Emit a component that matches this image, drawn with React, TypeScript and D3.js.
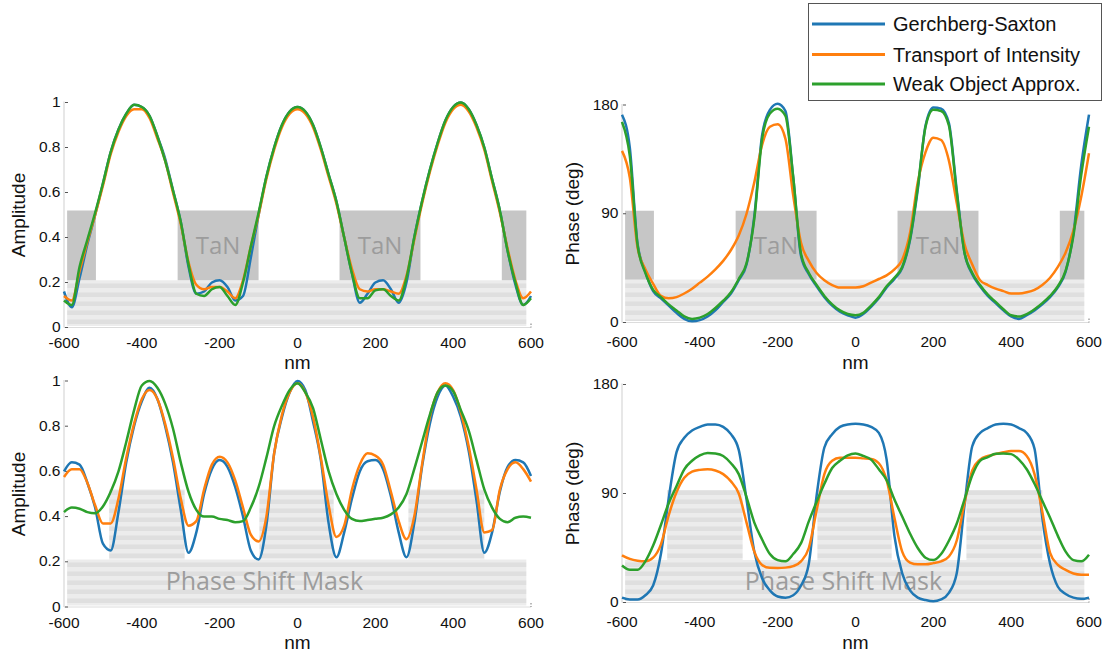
import React from 'react'
import * as d3 from 'd3'

// sample positions along the line cut (nm)
const nm = [-600, -580, -560, -540, -520, -500, -480, -460, -440, -420,
  -400, -380, -360, -340, -320, -300, -280, -260, -240, -220,
  -200, -180, -160, -140, -120, -100, -80, -60, -40, -20,
  0, 20, 40, 60, 80, 100, 120, 140, 160, 180,
  200, 220, 240, 260, 280, 300, 320, 340, 360, 380,
  400, 420, 440, 460, 480, 500, 520, 540, 560, 580,
  600]

// TaN absorber: amplitude
const ampTaN_GS = [0.16, 0.09, 0.22, 0.37, 0.50, 0.64, 0.78, 0.88, 0.95, 0.99,
  0.98, 0.94, 0.85, 0.75, 0.61, 0.47, 0.27, 0.15, 0.16, 0.20,
  0.21, 0.18, 0.12, 0.14, 0.31, 0.50, 0.67, 0.80, 0.90, 0.96,
  0.98, 0.96, 0.90, 0.80, 0.68, 0.56, 0.40, 0.24, 0.11, 0.15,
  0.20, 0.21, 0.17, 0.11, 0.20, 0.40, 0.56, 0.70, 0.82, 0.92,
  0.98, 1.00, 0.97, 0.90, 0.80, 0.66, 0.52, 0.34, 0.19, 0.10,
  0.14]
const ampTaN_TIE = [0.14, 0.12, 0.25, 0.38, 0.50, 0.63, 0.77, 0.87, 0.94, 0.97,
  0.97, 0.93, 0.84, 0.74, 0.60, 0.46, 0.29, 0.19, 0.17, 0.18,
  0.18, 0.16, 0.13, 0.21, 0.36, 0.50, 0.66, 0.79, 0.89, 0.95,
  0.97, 0.95, 0.89, 0.79, 0.67, 0.55, 0.40, 0.26, 0.17, 0.16,
  0.17, 0.17, 0.16, 0.15, 0.23, 0.39, 0.55, 0.69, 0.81, 0.91,
  0.97, 0.99, 0.96, 0.89, 0.79, 0.65, 0.51, 0.35, 0.21, 0.13,
  0.16]
const ampTaN_WOA = [0.12, 0.10, 0.27, 0.39, 0.51, 0.64, 0.78, 0.88, 0.95, 0.99,
  0.98, 0.94, 0.85, 0.74, 0.61, 0.47, 0.28, 0.15, 0.14, 0.17,
  0.18, 0.14, 0.10, 0.20, 0.36, 0.51, 0.67, 0.80, 0.90, 0.96,
  0.98, 0.96, 0.90, 0.80, 0.68, 0.56, 0.40, 0.24, 0.13, 0.13,
  0.165, 0.17, 0.14, 0.12, 0.22, 0.40, 0.56, 0.70, 0.82, 0.92,
  0.98, 1.00, 0.97, 0.90, 0.80, 0.66, 0.52, 0.34, 0.20, 0.10,
  0.13]

// TaN absorber: phase (deg)
const phaseTaN_GS = [172, 145, 65, 42, 26, 20, 14, 8, 3, 1,
  2, 5, 10, 17, 24, 35, 48, 88, 155, 176,
  181, 175, 120, 55, 40, 30, 21, 14, 9, 6,
  4, 7, 13, 20, 29, 36, 45, 68, 110, 163,
  178, 177, 165, 110, 58, 40, 30, 22, 16, 10,
  5, 3, 6, 10, 15, 21, 29, 42, 74, 130,
  172]
const phaseTaN_TIE = [142, 120, 62, 44, 32, 22, 20, 21, 24, 28,
  33, 38, 44, 51, 60, 72, 90, 116, 147, 162,
  164, 152, 105, 66, 51, 41, 35, 31, 29, 29,
  29, 30, 33, 36, 39, 44, 52, 74, 116, 141,
  153, 151, 134, 99, 65, 48, 35, 31, 28, 26,
  24, 24, 25, 27, 31, 37, 46, 58, 76, 104,
  140]
const phaseTaN_WOA = [166, 138, 64, 41, 27, 21, 15, 10, 5, 3,
  4, 7, 12, 18, 25, 36, 49, 86, 152, 173,
  177, 171, 120, 57, 41, 31, 22, 15, 10, 7,
  6, 8, 14, 21, 30, 37, 46, 69, 112, 162,
  176, 175, 163, 108, 58, 41, 31, 23, 17, 11,
  6, 5, 7, 11, 16, 22, 30, 43, 72, 122,
  162]

// phase shift mask: amplitude
const ampPSM_GS = [0.60, 0.64, 0.63, 0.55, 0.44, 0.28, 0.25, 0.42, 0.64, 0.80,
  0.91, 0.97, 0.92, 0.80, 0.64, 0.43, 0.24, 0.33, 0.50, 0.61,
  0.65, 0.62, 0.53, 0.40, 0.25, 0.21, 0.36, 0.68, 0.84, 0.95,
  1.00, 0.96, 0.82, 0.65, 0.37, 0.22, 0.33, 0.48, 0.60, 0.645,
  0.65, 0.61, 0.49, 0.33, 0.22, 0.37, 0.62, 0.81, 0.93, 0.98,
  0.93, 0.84, 0.69, 0.47, 0.24, 0.33, 0.51, 0.62, 0.65, 0.64,
  0.58]
const ampPSM_TIE = [0.575, 0.61, 0.61, 0.55, 0.45, 0.37, 0.37, 0.48, 0.66, 0.81,
  0.92, 0.96, 0.92, 0.81, 0.66, 0.48, 0.36, 0.38, 0.52, 0.63,
  0.665, 0.64, 0.56, 0.44, 0.32, 0.29, 0.40, 0.68, 0.85, 0.95,
  0.99, 0.95, 0.84, 0.66, 0.45, 0.31, 0.36, 0.52, 0.63, 0.68,
  0.67, 0.63, 0.51, 0.38, 0.30, 0.40, 0.63, 0.84, 0.95, 0.99,
  0.96, 0.86, 0.71, 0.52, 0.33, 0.34, 0.52, 0.61, 0.64, 0.61,
  0.555]
const ampPSM_WOA = [0.42, 0.44, 0.435, 0.42, 0.415, 0.445, 0.51, 0.60, 0.73, 0.87,
  0.98, 1.00, 0.97, 0.90, 0.79, 0.64, 0.51, 0.43, 0.40, 0.40,
  0.39, 0.385, 0.375, 0.38, 0.44, 0.53, 0.66, 0.80, 0.89, 0.96,
  0.99, 0.95, 0.88, 0.74, 0.60, 0.50, 0.43, 0.39, 0.38, 0.385,
  0.39, 0.395, 0.41, 0.44, 0.50, 0.61, 0.73, 0.85, 0.95, 0.98,
  0.955, 0.87, 0.78, 0.65, 0.52, 0.44, 0.39, 0.375, 0.395, 0.40,
  0.395]

// phase shift mask: phase (deg)
const phasePSM_GS = [4, 2.5, 2.5, 6, 14, 40, 86, 124, 136, 142,
  145, 147, 147, 145, 139, 126, 85, 42, 20, 10,
  5, 4, 6, 14, 32, 88, 128, 139, 145, 147,
  147.5, 147, 145, 140, 118, 55, 24, 10, 4, 2,
  1, 2.5, 8, 24, 80, 129, 140, 144, 147, 147.5,
  147, 144, 140, 127, 70, 32, 13, 7, 4, 3,
  4]
const phasePSM_TIE = [39, 36, 34.5, 34, 37, 48, 72, 91, 103, 108,
  109.5, 110, 109, 106, 100, 90, 66, 42, 31, 28.6,
  28.5, 28.8, 30, 34, 45, 76, 106, 117, 119.5, 119.5,
  119.5, 119, 118.5, 115, 101, 70, 42, 33, 31.5, 31.5,
  32.5, 34, 38, 51, 82, 109, 118, 121, 122.5, 124,
  125, 125, 121, 106, 75, 41, 31, 27, 24, 23,
  23]
const phasePSM_WOA = [30.5, 27, 27, 34, 47, 64, 82, 96, 110, 117,
  121.5, 123.5, 123, 121, 115, 106, 87, 66, 52, 40,
  35, 34, 40, 49, 67, 83, 98, 111, 117, 121.5,
  123, 121, 118, 110, 101, 85, 71, 57, 45, 37,
  35, 40, 51, 65, 85, 105, 117, 120, 122.8, 123,
  122.5, 118, 110, 98, 84, 70, 55, 42, 35, 34,
  39.5]

const seriesNames = ['Gerchberg-Saxton', 'Transport of Intensity', 'Weak Object Approx.']
const seriesColors = ['#1f77b4', '#ff7f0e', '#2ca02c']
const xTicks = [-600, -400, -200, 0, 200, 400, 600]

// mask geometry (nm)
const substrate = [-592, 588]
const tanBlocks = [[-592, -518], [-308, -100], [108, 316], [525, 588]]
const psmBlocks = [[-484, -290], [-98, 93], [285, 480]]

const panels = [
  { id: 'tl', px: [64, 531], py: [327.5, 102.5], yMax: 1, yTicks: [0, 0.2, 0.4, 0.6, 0.8, 1],
    yTitle: 'Amplitude', titleX: 25, tickBase: 348, nmBase: 369,
    data: [ampTaN_GS, ampTaN_TIE, ampTaN_WOA], mask: 'tan', levels: [0.21, 0.52] },
  { id: 'tr', px: [622, 1089], py: [322.5, 105], yMax: 180, yTicks: [0, 90, 180],
    yTitle: 'Phase (deg)', titleX: 579, tickBase: 347, nmBase: 369,
    data: [phaseTaN_GS, phaseTaN_TIE, phaseTaN_WOA], mask: 'tan', levels: [35.5, 92.5] },
  { id: 'bl', px: [64, 531], py: [607, 381], yMax: 1, yTicks: [0, 0.2, 0.4, 0.6, 0.8, 1],
    yTitle: 'Amplitude', titleX: 25, tickBase: 628, nmBase: 649,
    data: [ampPSM_GS, ampPSM_TIE, ampPSM_WOA], mask: 'psm', levels: [0.21, 0.52], label: -85 },
  { id: 'br', px: [622, 1089], py: [602.5, 384.5], yMax: 180, yTicks: [0, 90, 180],
    yTitle: 'Phase (deg)', titleX: 579, tickBase: 627, nmBase: 649,
    data: [phasePSM_GS, phasePSM_TIE, phasePSM_WOA], mask: 'psm', levels: [35.1, 92.9], label: -31 },
]

const sans = 'Liberation Sans, Arial, Helvetica, sans-serif'
const maskFont = 'Open Sans, Calibri, sans-serif'

function Panel({ p }) {
  const x = d3.scaleLinear().domain([-600, 600]).range(p.px)
  const y = d3.scaleLinear().domain([0, p.yMax]).range(p.py)
  const line = d3.line<number>()
    .x((d, i) => x(nm[i]))
    .y(d => y(d))
    .curve(d3.curveMonotoneX)
  const [lo, hi] = p.levels
  const blocks = p.mask === 'tan' ? tanBlocks : psmBlocks
  const x0 = p.px[0], x1 = p.px[1]
  const y0 = y(0), yTop = y(p.yMax)

  return (
    <g>
      {/* substrate */}
      <rect x={x(substrate[0])} y={y(lo)} width={x(substrate[1]) - x(substrate[0])}
        height={y(0) - y(lo) - 1.5} fill="url(#stripes)" />
      {blocks.map((b, i) => (
        <rect key={i} x={x(b[0])} y={y(hi)} width={x(b[1]) - x(b[0])} height={y(lo) - y(hi)}
          fill={p.mask === 'tan' ? '#c6c6c6' : 'url(#stripes)'} />
      ))}
      {p.mask === 'tan'
        ? [tanBlocks[1], tanBlocks[2]].map((b, i) => (
          <text key={i} x={x((b[0] + b[1]) / 2)} y={(y(lo) + y(hi)) / 2 + 8.5} textAnchor="middle"
            fontFamily={maskFont} fontSize={24} fill="#9c9c9c">TaN</text>
        ))
        : <text x={x(p.label)} y={590} textAnchor="middle" fontFamily={maskFont} fontSize={25}
            fill="#9c9c9c">Phase Shift Mask</text>}

      {/* axes */}
      <line x1={x0} x2={x0} y1={y0} y2={yTop - 1} stroke="#cfcfcf" />
      <line x1={x0} x2={x1} y1={y0} y2={y0} stroke="#dcdcdc" />
      <line x1={x1} x2={x1} y1={y0 - 4} y2={y0} stroke="#777" strokeDasharray="1.5,1.5" />
      {p.yTicks.map(t => (
        <g key={t}>
          <line x1={x0 + 1} x2={x0 + 4} y1={y(t)} y2={y(t)} stroke="#555" />
          <text x={x0 - 3.5} y={y(t) + 4.5} textAnchor="end" fontFamily={sans} fontSize={15.5} fill="#111">
            {String(t)}
          </text>
        </g>
      ))}
      {xTicks.map(t => (
        <text key={t} x={x(t)} y={p.tickBase} textAnchor="middle" fontFamily={sans} fontSize={15.5} fill="#111">
          {String(t)}
        </text>
      ))}
      <text x={(x0 + x1) / 2} y={p.nmBase} textAnchor="middle" fontFamily={sans} fontSize={19} fill="#111">nm</text>
      <text transform={`translate(${p.titleX},${(y0 + yTop) / 2}) rotate(-90)`} textAnchor="middle"
        fontFamily={sans} fontSize={19} fill="#111">{p.yTitle}</text>

      {/* curves */}
      {p.data.map((s, i) => (
        <path key={i} d={line(s)} fill="none" stroke={seriesColors[i]} strokeWidth={2.5}
          strokeLinejoin="round" />
      ))}
    </g>
  )
}

export default function App() {
  const rows = [24, 54.5, 84]
  return (
    <svg width={1105} height={655} style={{ position: 'absolute', left: 0, top: 0, background: '#fff' }}>
      <defs>
        <pattern id="stripes" patternUnits="userSpaceOnUse" width={10} height={9}>
          <rect width={10} height={9} fill="#ececec" />
          <rect y={4.5} width={10} height={4.5} fill="#dfdfdf" />
        </pattern>
      </defs>
      <rect width={1105} height={655} fill="#fff" />
      {panels.map(p => <Panel key={p.id} p={p} />)}

      {/* legend */}
      <rect x={808.5} y={3.5} width={293} height={97} fill="#fff" stroke="#555" />
      {seriesNames.map((n, i) => (
        <g key={n}>
          <line x1={812} x2={885} y1={rows[i]} y2={rows[i]} stroke={seriesColors[i]} strokeWidth={3} />
          <text x={893} y={rows[i] + 7} fontFamily={sans} fontSize={20} fill="#111">{n}</text>
        </g>
      ))}
    </svg>
  )
}
